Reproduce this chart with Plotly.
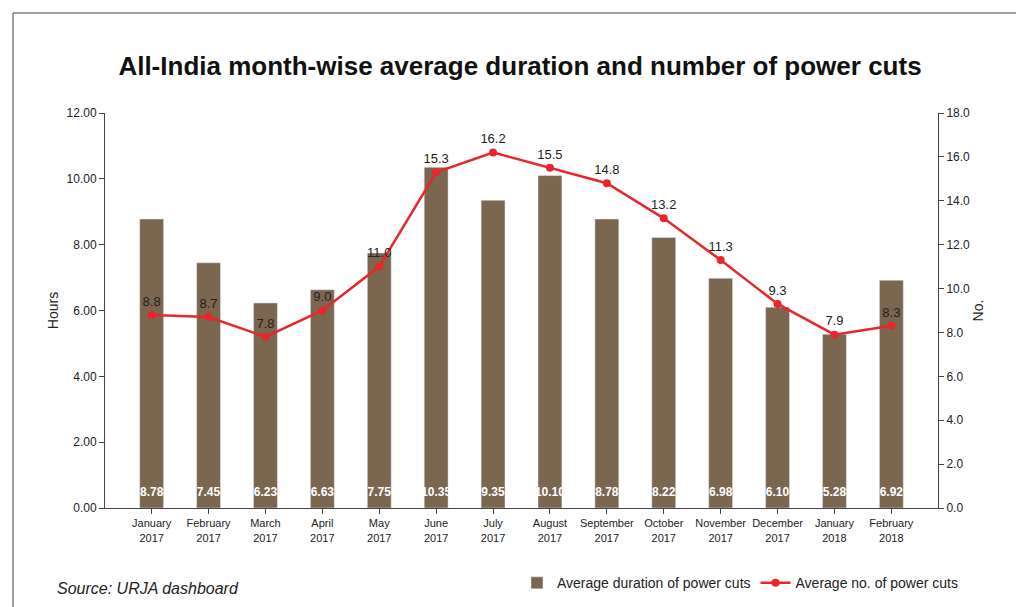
import plotly.graph_objects as go

months = ["January<br>2017", "February<br>2017", "March<br>2017", "April<br>2017", "May<br>2017",
          "June<br>2017", "July<br>2017", "August<br>2017", "September<br>2017", "October<br>2017",
          "November<br>2017", "December<br>2017", "January<br>2018", "February<br>2018"]
duration = [8.78, 7.45, 6.23, 6.63, 7.75, 10.35, 9.35, 10.10, 8.78, 8.22, 6.98, 6.10, 5.28, 6.92]
cuts = [8.8, 8.7, 7.8, 9.0, 11.0, 15.3, 16.2, 15.5, 14.8, 13.2, 11.3, 9.3, 7.9, 8.3]

fig = go.Figure()
fig.add_trace(go.Bar(x=months, y=duration, name="Average duration of power cuts",
                     marker_color="#7b6650", width=0.42))
# white labels at bar bottoms
fig.add_trace(go.Scatter(x=months, y=[0.45] * len(months), mode="text",
                         text=[f"<b>{v:.2f}</b>" for v in duration],
                         textfont=dict(color="white", size=12), showlegend=False, hoverinfo="skip"))
fig.add_trace(go.Scatter(x=months, y=cuts, name="Average no. of power cuts", yaxis="y2",
                         mode="lines+markers+text", text=[f"{v:.1f}" for v in cuts],
                         textposition="top center", textfont=dict(size=13, color="#222"),
                         line=dict(color="#e8262b", width=2.5),
                         marker=dict(color="#e8262b", size=8)))

fig.update_layout(
    width=1024, height=607, paper_bgcolor="white", plot_bgcolor="white",
    font=dict(family="Liberation Sans, Arial, sans-serif", size=12, color="#222"),
    title=dict(text="<b>All-India month-wise average duration and number of power cuts</b>",
               x=0.5, y=0.92, xanchor="center", font=dict(size=26, color="#111")),
    margin=dict(l=97, r=94, t=105, b=107),
    xaxis=dict(showline=True, linecolor="#444", ticks="outside", tickangle=0,
               tickfont=dict(size=11)),
    yaxis=dict(title=dict(text="Hours", standoff=4), range=[0, 12], dtick=2, tickformat=".2f",
               showline=True, linecolor="#444", ticks="outside", showgrid=False, zeroline=False),
    yaxis2=dict(title=dict(text="No.", standoff=4), range=[0, 18], dtick=2, tickformat=".1f",
                overlaying="y", side="right", showline=True, linecolor="#444",
                ticks="outside", showgrid=False, zeroline=False),
    legend=dict(orientation="h", x=1.03, xanchor="right", y=-0.15, yanchor="top",
                font=dict(size=14)),
    shapes=[dict(type="rect", xref="paper", yref="paper",
                 x0=-92/833, x1=1+88/833, y0=-100/395, y1=1+100/395,
                 line=dict(color="#444", width=1))],
    annotations=[dict(text="<i>Source: URJA dashboard</i>", x=-50/833, y=-80/395,
                      xref="paper", yref="paper", xanchor="left", yanchor="middle",
                      showarrow=False, font=dict(size=16))],
)
fig.write_html("out.html")
